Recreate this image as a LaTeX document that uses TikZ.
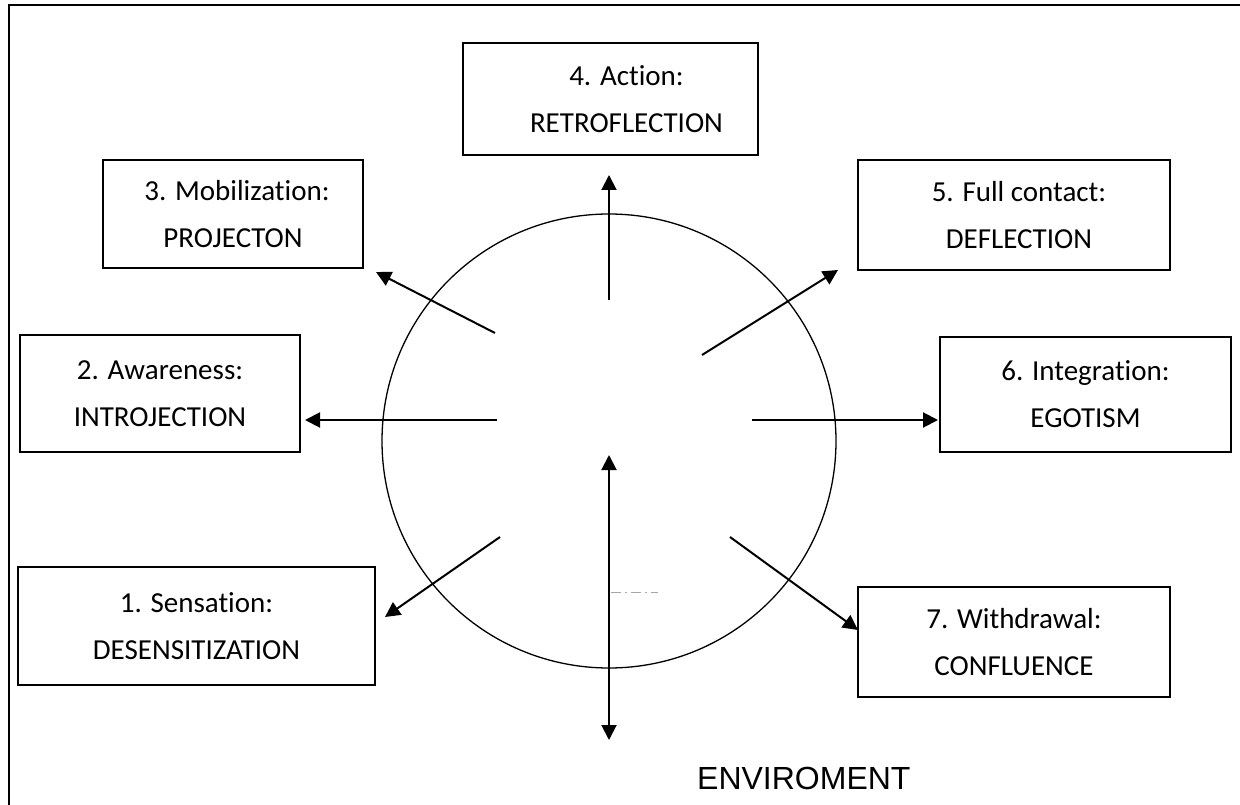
\documentclass[tikz,border=0pt]{standalone}
\usepackage{fontspec}
\setmainfont[Ligatures=NoCommon]{Carlito}
\newfontfamily\arialfont{Liberation Sans}
\usetikzlibrary{arrows.meta}
\begin{document}
\begin{tikzpicture}[x=1pt,y=-1pt,
  box/.style={draw, line width=1.3pt, align=center, inner sep=0pt, font=\fontsize{29}{47}\selectfont},
  arr/.style={line width=2pt, -{Triangle[length=15pt,width=15pt]}},
  darr/.style={line width=2pt, {Triangle[length=15pt,width=15pt]}-{Triangle[length=15pt,width=15pt]}}]
\useasboundingbox (0,0) rectangle (1240,805);
% frame (top and left edges)
\draw[line width=2.5pt] (9,805) -- (9,5) -- (1240,5);
% circle
\node[draw, circle, line width=1.3pt, minimum size=454pt, inner sep=0pt] (c) at (609,441) {};
% boxes
\node[box, minimum width=295pt, minimum height=112pt] (b4) at (610.5,99) {\hspace*{32pt}4. Action:\\\hspace*{32pt}RETROFLECTION};
\node[box, minimum width=260pt, minimum height=108pt] (b3) at (233,214) {\hspace*{8pt}3. Mobilization:\\PROJECTON};
\node[box, minimum width=312pt, minimum height=110pt] (b5) at (1014,215) {\hspace*{10pt}5. Full contact:\\\hspace*{10pt}DEFLECTION};
\node[box, minimum width=280pt, minimum height=117pt] (b2) at (160,393.5) {2. Awareness:\\INTROJECTION};
\node[box, minimum width=291pt, minimum height=115pt] (b6) at (1085.5,394.5) {6. Integration:\\EGOTISM};
\node[box, minimum width=357pt, minimum height=118pt] (b1) at (196.5,626) {1. Sensation:\\DESENSITIZATION};
\node[box, minimum width=312pt, minimum height=110pt] (b7) at (1014,642) {7. Withdrawal:\\CONFLUENCE};
% label
\node[anchor=base west, inner sep=0pt, font=\arialfont\fontsize{32}{38}\selectfont] (env) at (697,789) {ENVIROMENT};
% arrow coordinates
\coordinate (t4) at (609,300); \coordinate (h4) at (609,175);
\coordinate (t2) at (497,420); \coordinate (h2) at (305,420);
\coordinate (t6) at (752,420); \coordinate (h6) at (938,420);
\coordinate (t3) at (495,333); \coordinate (h3) at (376,272);
\coordinate (t5) at (702,355); \coordinate (h5) at (838,270);
\coordinate (t1) at (500,537); \coordinate (h1) at (385,617);
\coordinate (t7) at (730,537); \coordinate (h7) at (858,630);
\coordinate (d1) at (609,455); \coordinate (d2) at (609,740);
\draw[arr] (t4) -- (h4);
\draw[arr] (t2) -- (h2);
\draw[arr] (t6) -- (h6);
\draw[arr] (t3) -- (h3);
\draw[arr] (t5) -- (h5);
\draw[arr] (t1) -- (h1);
\draw[arr] (t7) -- (h7);
\draw[darr] (d1) -- (d2);
% faint residual mark
\coordinate (m1) at (611,592); \coordinate (m2) at (658,592);
\draw[gray!70, line width=0.8pt, dash pattern=on 10pt off 4pt on 2pt off 4pt] (m1) -- (m2);
\end{tikzpicture}
\end{document}
